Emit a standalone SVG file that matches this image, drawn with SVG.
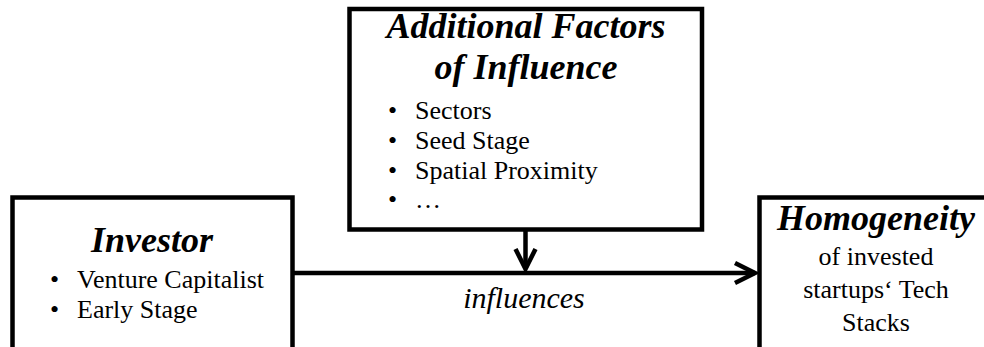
<svg xmlns="http://www.w3.org/2000/svg" width="984" height="347" viewBox="0 0 984 347" font-family="Liberation Serif, DejaVu Serif, serif">
  <style>
    .box { fill: #ffffff; stroke: #000000; stroke-width: 4.5; }
    .title { font-weight: bold; font-style: italic; font-size: 36px; text-anchor: middle; fill: #000; }
    .item { font-size: 26px; fill: #000; }
    .center { text-anchor: middle; }
    .label { font-style: italic; font-size: 30px; text-anchor: middle; fill: #000; }
    .edge { fill: none; stroke: #000000; stroke-width: 4.5; }
  </style>
  <defs>
    <marker id="chevron" markerUnits="userSpaceOnUse" markerWidth="30" markerHeight="30" refX="22" refY="12" orient="auto" overflow="visible">
      <path d="M2,2 L22,12 L2,22" fill="none" stroke="#000" stroke-width="4.5" stroke-linejoin="miter"/>
    </marker>
  </defs>

  <!-- connectors -->
  <g id="connectors">
    <path class="edge" d="M292.5,273 L755,273" marker-end="url(#chevron)"/>
    <path class="edge" d="M525.5,229.5 L525.5,269" marker-end="url(#chevron)"/>
  </g>

  <!-- moderating factors -->
  <g id="factors" font-family="Liberation Serif">
    <rect class="box" x="349.5" y="9" width="352.5" height="220.5"/>
    <text class="title" x="526" y="38">Additional Factors</text>
    <text class="title" x="526" y="79">of Influence</text>
    <text class="item" x="388" y="119">•</text>
    <text class="item" x="415" y="119">Sectors</text>
    <text class="item" x="388" y="149">•</text>
    <text class="item" x="415" y="149">Seed Stage</text>
    <text class="item" x="388" y="179">•</text>
    <text class="item" x="415" y="179">Spatial Proximity</text>
    <text class="item" x="388" y="208">•</text>
    <text class="item" x="415" y="208">…</text>
  </g>

  <!-- investor -->
  <g id="investor" font-family="Liberation Serif">
    <rect class="box" x="12.5" y="197.5" width="280" height="170"/>
    <text class="title" x="152" y="252">Investor</text>
    <text class="item" x="50" y="288">•</text>
    <text class="item" x="77" y="288">Venture Capitalist</text>
    <text class="item" x="50" y="318">•</text>
    <text class="item" x="77" y="318">Early Stage</text>
  </g>

  <!-- outcome -->
  <g id="homogeneity" font-family="Liberation Serif">
    <rect class="box" x="759.5" y="197.5" width="240" height="170"/>
    <text class="title" x="876" y="230">Homogeneity</text>
    <text class="item center" x="876" y="265">of invested</text>
    <text class="item center" x="876" y="298">startups‘ Tech</text>
    <text class="item center" x="876" y="331">Stacks</text>
  </g>

  <text class="label" x="524" y="308" font-family="Liberation Serif">influences</text>
</svg>
